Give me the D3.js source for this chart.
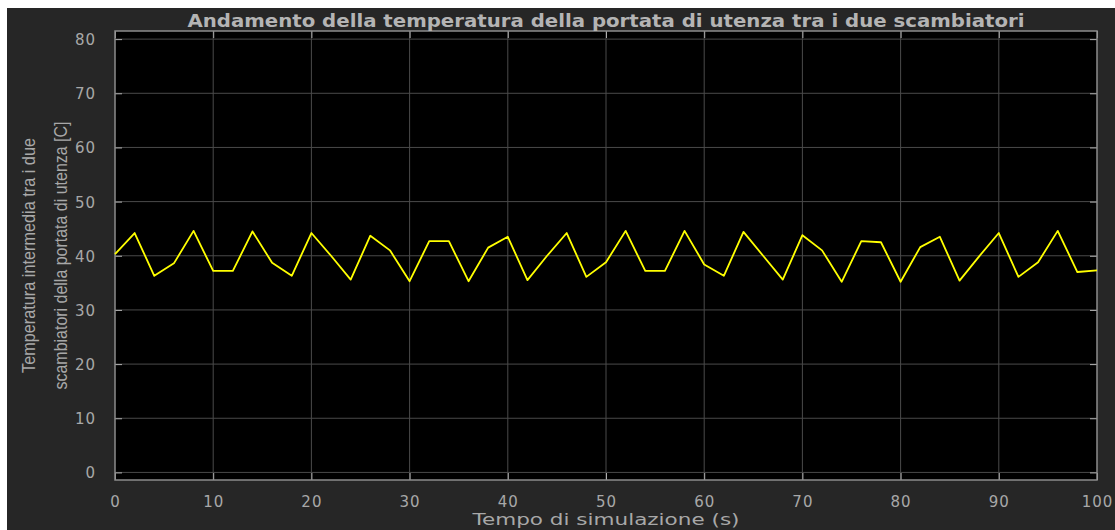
<!DOCTYPE html>
<html>
<head>
<meta charset="utf-8">
<script src="https://cdn.jsdelivr.net/npm/d3@7"></script>
<style>
  html, body { margin: 0; padding: 0; background: #ffffff; }
  svg { display: block; }
</style>
</head>
<body>
<svg id="chart"></svg>
<script>
// values (time in s, temperature in C)
const times = [0, 2, 4, 6, 8, 10, 12, 14, 16, 18, 20, 22, 24, 26, 28, 30, 32, 34, 36, 38, 40,
               42, 44, 46, 48, 50, 52, 54, 56, 58, 60, 62, 64, 66, 68, 70, 72, 74, 76, 78, 80,
               82, 84, 86, 88, 90, 92, 94, 96, 98, 100];
const temps = [40.3, 44.2, 36.3, 38.6, 44.6, 37.2, 37.2, 44.5, 38.7, 36.3, 44.2, 40.0, 35.6, 43.7, 41.0, 35.3, 42.7, 42.7, 35.3, 41.5, 43.5,
               35.5, 40.0, 44.2, 36.1, 38.8, 44.6, 37.2, 37.2, 44.6, 38.4, 36.3, 44.4, 40.0, 35.6, 43.8, 41.0, 35.2, 42.7, 42.5, 35.2,
               41.6, 43.5, 35.4, 39.9, 44.2, 36.1, 38.8, 44.6, 37.0, 37.3];
const xTicks = [0, 10, 20, 30, 40, 50, 60, 70, 80, 90, 100];
const yTicks = [0, 10, 20, 30, 40, 50, 60, 70, 80];

const titleText = "Andamento della temperatura della portata di utenza tra i due scambiatori";
const xLabel = "Tempo di simulazione (s)";
const yLabelLines = ["Temperatura intermedia tra i due", "scambiatori della portata di utenza [C]"];
const yLabelLengths = [235, 268];

const config = {
    width: 1115,
    height: 530,
    margin: {top: 31, right: 18, bottom: 50, left: 115}
};
const wideFont = "'DejaVu Sans', 'Liberation Sans', Arial, sans-serif";

const svg = d3.select("#chart")
    .attr("width", config.width)
    .attr("height", config.height);

// figure background (white strip on top and left, like the screenshot)
svg.append("rect")
    .attr("x", 7).attr("y", 8)
    .attr("width", config.width - 7)
    .attr("height", config.height - 8)
    .attr("fill", "#262626");

const innerW = config.width - config.margin.left - config.margin.right;
const innerH = 480 - config.margin.top;

const xScale = d3.scaleLinear().domain([0, 100]).range([0, innerW]);
const yScale = d3.scaleLinear().domain([-1.4, 81.5]).range([innerH, 0]);

const chart = svg.append("g")
    .attr("transform", `translate(${config.margin.left},${config.margin.top})`);

// plot area
chart.append("rect")
    .attr("width", innerW)
    .attr("height", innerH)
    .attr("fill", "#000000");

// grid
chart.append("g")
    .selectAll("line.vgrid")
    .data(xTicks.slice(1, -1))
    .join("line")
    .attr("x1", d => xScale(d)).attr("x2", d => xScale(d))
    .attr("y1", 0).attr("y2", innerH)
    .attr("stroke", "#4a4a4a").attr("stroke-width", 1);

chart.append("g")
    .selectAll("line.hgrid")
    .data(yTicks)
    .join("line")
    .attr("x1", 0).attr("x2", innerW)
    .attr("y1", d => yScale(d)).attr("y2", d => yScale(d))
    .attr("stroke", "#4a4a4a").attr("stroke-width", 1);

// axes (ticks inward, like MATLAB)
const tickLen = 7;
const xAxis = d3.axisBottom(xScale).tickValues(xTicks).tickSizeInner(-tickLen).tickSizeOuter(0).tickPadding(16);
const yAxis = d3.axisLeft(yScale).tickValues(yTicks).tickSizeInner(-tickLen).tickSizeOuter(0).tickPadding(19);

const xAxisG = chart.append("g")
    .attr("transform", `translate(0,${innerH})`)
    .call(xAxis);
const yAxisG = chart.append("g").call(yAxis);

// mirrored ticks on top and right
chart.append("g")
    .call(d3.axisTop(xScale).tickValues(xTicks).tickSizeInner(-tickLen).tickSizeOuter(0).tickFormat(""));
chart.append("g")
    .attr("transform", `translate(${innerW},0)`)
    .call(d3.axisRight(yScale).tickValues(yTicks).tickSizeInner(-tickLen).tickSizeOuter(0).tickFormat(""));

chart.selectAll(".domain").remove();
chart.selectAll(".tick line").attr("stroke", "#b0b0b0");
chart.selectAll(".tick text")
    .attr("fill", "#a8a8a8")
    .style("font-family", wideFont)
    .style("font-size", "15px")
    .style("letter-spacing", "1px");
yAxisG.selectAll(".tick text").attr("dy", "0.36em");

// frame
chart.append("rect")
    .attr("width", innerW)
    .attr("height", innerH)
    .attr("fill", "none")
    .attr("stroke", "#8c8c8c")
    .attr("stroke-width", 1.5);

// trace
const line = d3.line()
    .x((d, i) => xScale(times[i]))
    .y(d => yScale(d));

chart.append("path")
    .datum(temps)
    .attr("d", line)
    .attr("fill", "none")
    .attr("stroke", "#ffff00")
    .attr("stroke-width", 1.8)
    .attr("stroke-linejoin", "round");

// title
svg.append("text")
    .attr("x", config.margin.left + innerW / 2)
    .attr("y", 27)
    .attr("text-anchor", "middle")
    .attr("fill", "#b4b4b4")
    .attr("font-weight", "bold")
    .attr("textLength", 837)
    .attr("lengthAdjust", "spacingAndGlyphs")
    .style("font-family", wideFont)
    .style("font-size", "17px")
    .text(titleText);

// x label
svg.append("text")
    .attr("x", config.margin.left + innerW / 2)
    .attr("y", 525)
    .attr("text-anchor", "middle")
    .attr("fill", "#a8a8a8")
    .attr("textLength", 267)
    .attr("lengthAdjust", "spacingAndGlyphs")
    .style("font-family", wideFont)
    .style("font-size", "16.5px")
    .text(xLabel);

// y label, two lines rotated (tall, condensed glyphs)
const yLab = svg.append("g")
    .attr("transform", `translate(35,${config.margin.top + innerH / 2}) rotate(-90)`);

yLab.selectAll("text")
    .data(yLabelLines)
    .join("text")
    .attr("x", 0)
    .attr("y", (d, i) => i * 32)
    .attr("text-anchor", "middle")
    .attr("fill", "#a8a8a8")
    .attr("textLength", (d, i) => yLabelLengths[i])
    .attr("lengthAdjust", "spacingAndGlyphs")
    .style("font-family", "'Liberation Sans Narrow', 'Liberation Sans', Arial, sans-serif")
    .style("font-size", "19px")
    .text(d => d);
</script>
</body>
</html>
